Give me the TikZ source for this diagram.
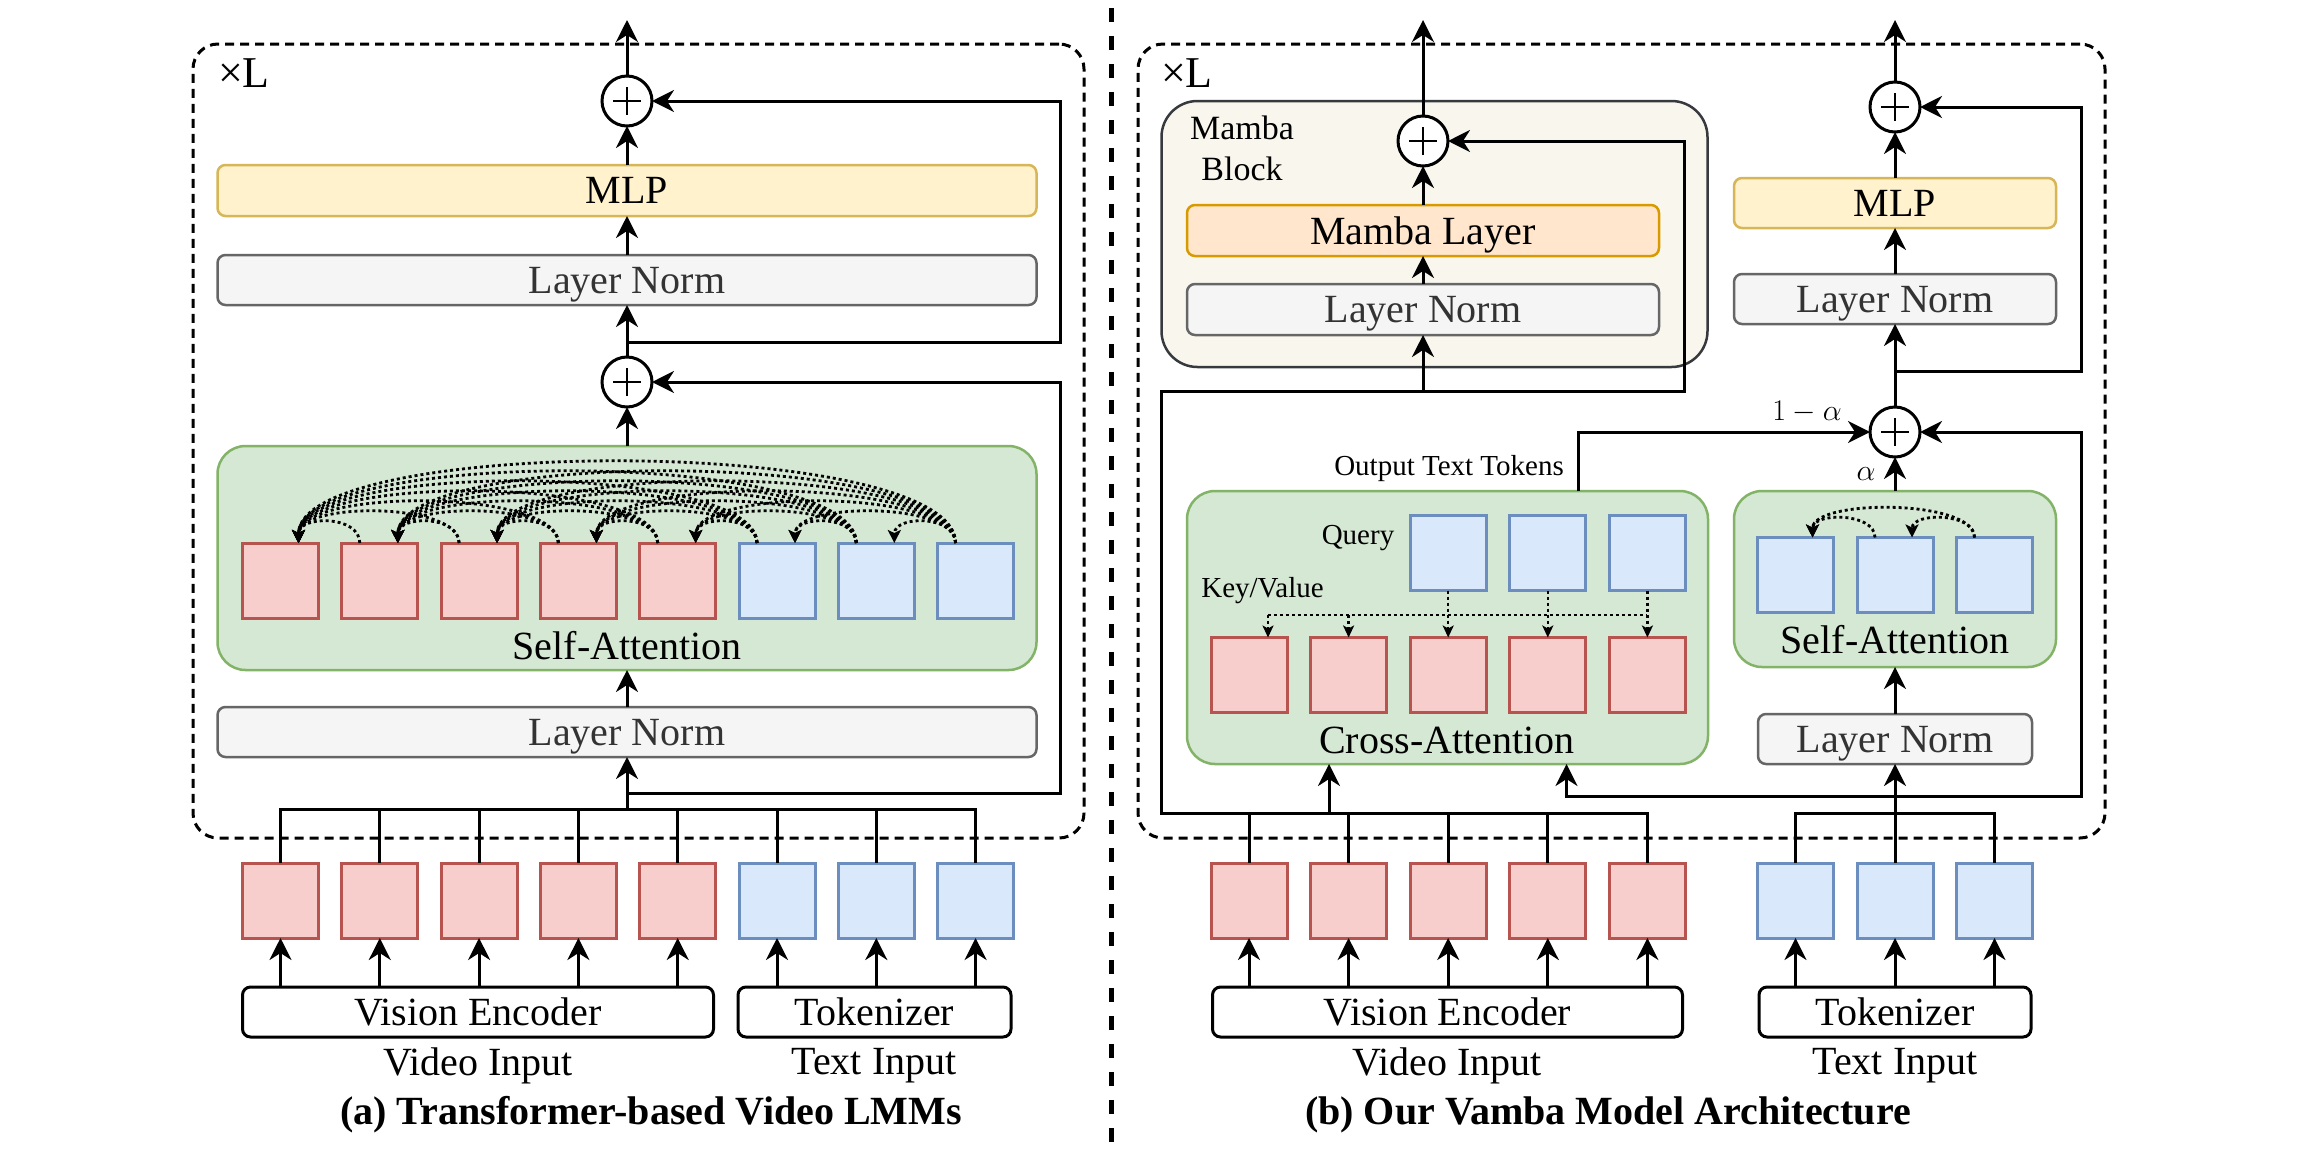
\RequirePackage{fix-cm}
\documentclass[tikz,border=0pt]{standalone}
\usepackage{fontspec}
\setmainfont{Liberation Serif}
\usetikzlibrary{arrows.meta,calc}

\definecolor{redfill}{HTML}{F8CECC}
\definecolor{redline}{HTML}{B85450}
\definecolor{bluefill}{HTML}{DAE8FC}
\definecolor{blueline}{HTML}{6C8EBF}
\definecolor{greenfill}{HTML}{D5E8D4}
\definecolor{greenline}{HTML}{82B366}
\definecolor{yellowfill}{HTML}{FFF2CC}
\definecolor{yellowline}{HTML}{D6B656}
\definecolor{grayfill}{HTML}{F5F5F5}
\definecolor{grayline}{HTML}{666666}
\definecolor{graytext}{HTML}{333333}
\definecolor{orangefill}{HTML}{FFE6CC}
\definecolor{orangeline}{HTML}{D79B00}
\definecolor{blockfill}{HTML}{F9F7ED}
\definecolor{blockline}{HTML}{36393D}

\newcommand{\fsz}[1]{\fontsize{#1}{#1}\selectfont}

\begin{document}
\begin{tikzpicture}[x=1pt,y=-1pt,
  every node/.style={inner sep=0pt, outer sep=0pt},
  lbl/.style={font=\fsz{40}},
  smalltxt/.style={font=\fsz{29}},
  bar/.style={draw, line width=2.5pt, rounded corners=8pt, font=\fsz{40}, text depth=0pt},
  lnorm/.style={bar, fill=grayfill, draw=grayline, text=graytext},
  mlp/.style={bar, fill=yellowfill, draw=yellowline},
  mambalayer/.style={bar, fill=orangefill, draw=orangeline},
  mblock/.style={draw=blockline, fill=blockfill, line width=2.5pt, rounded corners=36pt},
  enc/.style={draw, line width=3pt, rounded corners=8pt, font=\fsz{40}, fill=white, text depth=0pt},
  panel/.style={draw=greenline, fill=greenfill, line width=2.5pt, rounded corners=28pt},
  vtok/.style={draw=redline, fill=redfill, line width=3pt, minimum width=76pt, minimum height=75pt},
  ttok/.style={draw=blueline, fill=bluefill, line width=3pt, minimum width=76pt, minimum height=75pt},
  sum/.style={circle, draw, line width=3pt, minimum size=50pt, fill=white,
    path picture={\draw[line width=2pt] (path picture bounding box.center) +(-14pt,0pt) -- +(14pt,0pt)
      (path picture bounding box.center) +(0pt,-14pt) -- +(0pt,14pt);}},
  wire/.style={line width=3pt},
  arr/.style={wire, -{Stealth[length=22pt,width=22pt,inset=7pt]}},
  attn/.style={line width=2.8pt, dash pattern=on 3pt off 3pt, -{Stealth[length=13pt,width=13pt,inset=3pt]}},
  qdot/.style={line width=2.5pt, dash pattern=on 3pt off 3pt},
  qkv/.style={qdot, -{Stealth[length=12pt,width=11pt,inset=3pt]}},
  outerbox/.style={draw, line width=3pt, dash pattern=on 9pt off 6pt, rounded corners=25pt},
]
\fill[white] (0,0) rectangle (2324,1168);
\useasboundingbox (0,0) rectangle (2324,1168);

% ================= (a) Transformer-based Video LMMs =================
\node[outerbox, minimum width=891pt, minimum height=794pt] (frameA) at (638.5,441) {};
\node[font=\fsz{44}] (xLA) at (244,73) {×L};

\node[mlp, minimum width=819pt, minimum height=51pt] (mlpA) at (627,190.5) {MLP};
\node[lnorm, minimum width=819pt, minimum height=50pt] (lnA1) at (627,280) {Layer Norm};
\node[panel, minimum width=819pt, minimum height=224pt] (saA) at (627,558) {};
\node[lbl] (saAlbl) at (627,646) {Self-Attention};
\node[lnorm, minimum width=819pt, minimum height=50pt] (lnA2) at (627,732) {Layer Norm};
\node[sum] (pA1) at (627,101) {};
\node[sum] (pA2) at (627,382) {};

\foreach \i in {1,...,5} \node[vtok] (a\i) at ({280.5+99.3*(\i-1)},580.5) {};
\foreach \i in {6,7,8} \node[ttok] (a\i) at ({280.5+99.3*(\i-1)},580.5) {};
\foreach \i in {1,...,5} \node[vtok] (ai\i) at ({280.5+99.3*(\i-1)},900.5) {};
\foreach \i in {6,7,8} \node[ttok] (ai\i) at ({280.5+99.3*(\i-1)},900.5) {};

\node[enc, minimum width=471pt, minimum height=50pt] (encA) at (478,1012) {Vision Encoder};
\node[enc, minimum width=273pt, minimum height=50pt] (tokzA) at (874.5,1012) {Tokenizer};
\node[lbl] (vinA) at (478,1066) {Video Input};
\node[lbl] (tinA) at (874,1066) {Text Input};
\node[font=\fsz{40}\bfseries] (capA) at (651,1115) {(a) Transformer-based Video LMMs};

% connectors of (a)
\coordinate (outA) at (627,20);
\coordinate (busA) at (627,809);
\coordinate (resA1) at (627,793);
\coordinate (resA1r) at (1060,793);
\coordinate (resA2) at (627,342);
\coordinate (resA2r) at (1060,342);

\draw[wire] (ai1.north) -- (ai1.north |- busA) -- (ai8.north |- busA) -- (ai8.north);
\foreach \i in {2,...,7} \draw[wire] (ai\i.north) -- (ai\i.north |- busA);
\draw[arr] (busA) -- (lnA2.south);
\draw[arr] (lnA2.north) -- (saA.south);
\draw[arr] (saA.north) -- (pA2.south);
\draw[arr] (resA1) -- (resA1r) |- (pA2.east);
\draw[arr] (pA2.north) -- (lnA1.south);
\draw[arr] (lnA1.north) -- (mlpA.south);
\draw[arr] (mlpA.north) -- (pA1.south);
\draw[arr] (resA2) -- (resA2r) |- (pA1.east);
\draw[arr] (pA1.north) -- (outA);
\foreach \i in {1,...,5} \draw[arr] (ai\i.south |- encA.north) -- (ai\i.south);
\foreach \i in {6,7,8} \draw[arr] (ai\i.south |- tokzA.north) -- (ai\i.south);

% causal self-attention: every token attends to all earlier ones
\foreach \j in {2,...,8}{
  \pgfmathtruncatemacro{\jm}{\j-1}
  \foreach \i in {1,...,\jm}{
    \pgfmathsetmacro{\H}{(21+10*(\j-\i-1))/0.75}
    \draw[attn] ($(a\j.north west)+(18,0)$) .. controls +(0,-\H) and +(0,-\H) .. ($(a\i.north west)+(56,0)$);
  }
}

% divider between the two panels
\coordinate (divtop) at (1111,8);
\coordinate (divbot) at (1111,1142);
\draw[line width=5pt, dash pattern=on 14pt off 14pt] (divtop) -- (divbot);

% ================= (b) Vamba =================
\node[outerbox, minimum width=967pt, minimum height=794pt] (frameB) at (1621.5,441) {};
\node[font=\fsz{44}] (xLB) at (1187,73) {×L};

\node[mblock, minimum width=546pt, minimum height=266pt] (mblk) at (1434.5,234) {};
\node[font=\fontsize{34}{41}\selectfont, align=center] (mblkl) at (1242,148) {Mamba\\Block};
\node[mambalayer, minimum width=472pt, minimum height=51pt] (mlay) at (1423,230.5) {Mamba Layer};
\node[lnorm, minimum width=472pt, minimum height=51pt] (lnB1) at (1423,309.5) {Layer Norm};
\node[sum] (pB1) at (1423,141) {};

\node[panel, minimum width=521pt, minimum height=273pt] (ca) at (1447.5,627.5) {};
\node[lbl] (calbl) at (1447,740) {Cross-Attention};
\foreach \k in {1,...,5} \node[vtok] (kv\k) at ({1249+99.6*(\k-1)},675) {};
\foreach \k in {1,2,3} \node[ttok] (q\k) at ({1448.2+99.6*(\k-1)},553) {};
\node[smalltxt] (qlbl) at (1358,538) {Query};
\node[smalltxt] (kvlbl) at (1262.5,591) {Key/Value};

\node[panel, minimum width=322pt, minimum height=176pt] (saB) at (1895,579) {};
\node[lbl] (saBlbl) at (1895,640) {Self-Attention};
\foreach \k in {1,2,3} \node[ttok] (s\k) at ({1795.5+99.5*(\k-1)},575) {};
\node[lnorm, minimum width=274pt, minimum height=50pt] (lnB3) at (1895,739) {Layer Norm};
\node[sum] (pB2) at (1895,432) {};
\node[lnorm, minimum width=322pt, minimum height=50pt] (lnB2) at (1895,299) {Layer Norm};
\node[mlp, minimum width=322pt, minimum height=50pt] (mlpB) at (1895,203) {MLP};
\node[sum] (pB3) at (1895,107) {};

\node[smalltxt] (otlbl) at (1449,469) {Output Text Tokens};
\node[font=\fsz{30}] (omalbl) at (1807,412) {$1-\alpha$};
\node[font=\fsz{30}] (alpha) at (1866,474) {$\alpha$};

\foreach \k in {1,...,5} \node[vtok] (bi\k) at ({1249+99.6*(\k-1)},900.5) {};
\foreach \k in {1,2,3} \node[ttok] (ti\k) at ({1795.5+99.5*(\k-1)},900.5) {};
\node[enc, minimum width=470pt, minimum height=50pt] (encB) at (1447.5,1012) {Vision Encoder};
\node[enc, minimum width=272pt, minimum height=50pt] (tokzB) at (1895,1012) {Tokenizer};
\node[lbl] (vinB) at (1447,1066) {Video Input};
\node[lbl] (tinB) at (1895,1066) {Text Input};
\node[font=\fsz{40}\bfseries] (capB) at (1608,1115) {(b) Our Vamba Model Architecture};

% connectors of (b)
\coordinate (outB1) at (1423,20);
\coordinate (outB3) at (1895,20);
\coordinate (busBL) at (1161.5,813);
\coordinate (mbL) at (1161.5,391);
\coordinate (mbM) at (1423,391);
\coordinate (mbR) at (1684,391);
\coordinate (caIn) at (1329,813);
\coordinate (otx) at (1578,491);
\coordinate (resB) at (1895,796);
\coordinate (resBL) at (1566.5,796);
\coordinate (resBR) at (2081,796);
\coordinate (resB2) at (1895,371);
\coordinate (resB2R) at (2081,371);

\draw[arr] (bi5.north) |- (busBL) -- (mbL) -- (mbR) |- (pB1.east);
\foreach \k in {1,...,4} \draw[wire] (bi\k.north) -- (bi\k.north |- busBL);
\draw[arr] (mbM) -- (lnB1.south);
\draw[arr] (lnB1.north) -- (mlay.south);
\draw[arr] (mlay.north) -- (pB1.south);
\draw[arr] (pB1.north) -- (outB1);
\draw[arr] (caIn) -- (caIn |- ca.south);
\draw[arr] (otx) |- (pB2.west);

\draw[wire] (ti1.north) -- (ti1.north |- busBL) -- (ti3.north |- busBL) -- (ti3.north);
\draw[arr] (ti2.north) -- (lnB3.south);
\draw[arr] (resB) -- (resBL) -- (resBL |- ca.south);
\draw[arr] (resB) -- (resBR) |- (pB2.east);
\draw[arr] (lnB3.north) -- (saB.south);
\draw[arr] (saB.north) -- (pB2.south);
\draw[arr] (pB2.north) -- (lnB2.south);
\draw[arr] (lnB2.north) -- (mlpB.south);
\draw[arr] (mlpB.north) -- (pB3.south);
\draw[arr] (pB3.north) -- (outB3);
\draw[arr] (resB2) -- (resB2R) |- (pB3.east);
\foreach \k in {1,...,5} \draw[arr] (bi\k.south |- encB.north) -- (bi\k.south);
\foreach \k in {1,2,3} \draw[arr] (ti\k.south |- tokzB.north) -- (ti\k.south);

% cross-attention: text queries read the video keys/values
\foreach \k/\m in {1/3,2/4,3/5} \draw[qkv] (q\k.south) -- (q\k.south |- kv\m.north);
\coordinate (kvL) at (1268,615);
\draw[qdot] (kvL) -- (q3.south |- kvL);
\draw[qkv] (kvL) -- (kvL |- kv1.north);
\draw[qkv] (kv2.north |- kvL) -- (kv2.north);

% self-attention among the text tokens
\foreach \j/\i in {2/1,3/2,3/1}{
  \pgfmathsetmacro{\H}{(19+10*(\j-\i-1))/0.75}
  \draw[attn] ($(s\j.north west)+(18,0)$) .. controls +(0,-\H) and +(0,-\H) .. ($(s\i.north west)+(55,0)$);
}
\end{tikzpicture}
\end{document}
